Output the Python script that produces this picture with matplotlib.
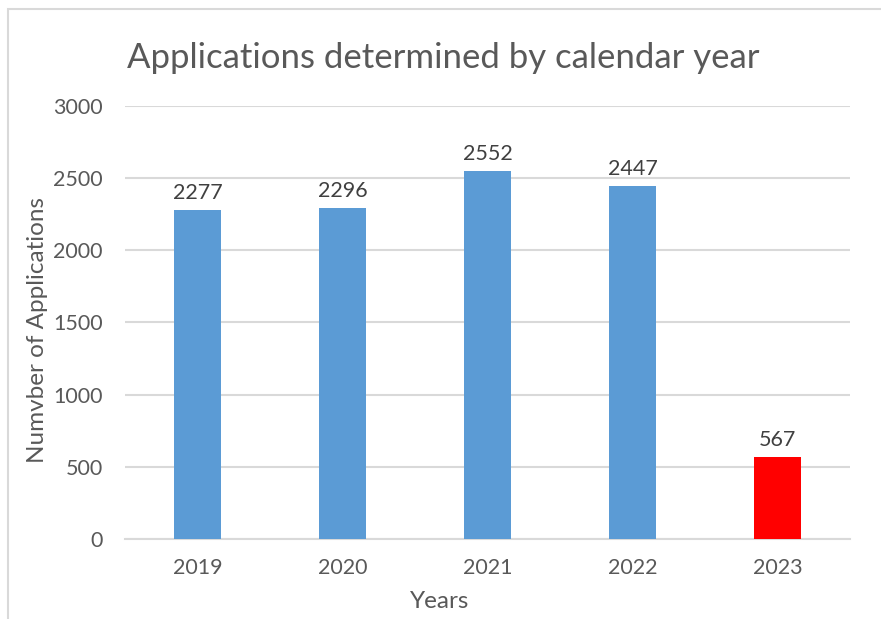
import matplotlib.pyplot as plt
from matplotlib.patches import Rectangle

years = ["2019", "2020", "2021", "2022", "2023"]
applications = [2277, 2296, 2552, 2447, 567]
bar_colors = ["#5B9BD5", "#5B9BD5", "#5B9BD5", "#5B9BD5", "#FF0000"]
y_ticks = [0, 500, 1000, 1500, 2000, 2500, 3000]

text_color = "#595959"
grid_color = "#D9D9D9"
plt.rcParams['font.family'] = ['Lato', 'DejaVu Sans']

fig = plt.figure(figsize=(8.81, 6.19), dpi=100)
ax = fig.add_axes([0.1419, 0.1292, 0.8229, 0.6996])

# chart frame (cut off at right and bottom)
fig.patches.append(Rectangle((8 / 881, -0.1), 1.2, 1 - 9 / 619 + 0.1,
                             transform=fig.transFigure, fill=False,
                             edgecolor="#D9D9D9", linewidth=1.5))

x = range(len(years))
bars = ax.bar(x, applications, width=0.32, color=bar_colors, zorder=3)
for rect, val in zip(bars, applications):
    ax.annotate(str(val), (rect.get_x() + rect.get_width() / 2, val),
                xytext=(0, 5), textcoords="offset points",
                ha="center", va="bottom", fontsize=15.5, color="#404040")

ax.set_xlim(-0.5, len(years) - 0.5)
ax.set_ylim(0, 3000)
ax.set_yticks(y_ticks)
ax.set_xticks(list(x))
ax.set_xticklabels(years)
ax.tick_params(axis="both", length=0, labelsize=15.5, labelcolor=text_color)
ax.tick_params(axis="y", pad=16)
ax.tick_params(axis="x", pad=14)
ax.yaxis.grid(True, color=grid_color, linewidth=1.5, zorder=0)
for side in ["top", "right", "left"]:
    ax.spines[side].set_visible(False)
ax.spines["bottom"].set_color(grid_color)
ax.spines["bottom"].set_linewidth(1.5)

ax.set_ylabel("Numvber of Applications", fontsize=17.5, color=text_color, va="center")
ax.set_xlabel("Years", fontsize=17.5, color=text_color, va="center")
# axis titles are centred on the chart area rather than the plot area
ax.yaxis.set_label_coords(38 / 881, 1 - 330 / 619, transform=fig.transFigure)
ax.xaxis.set_label_coords(440 / 881, 1 - 601 / 619, transform=fig.transFigure)

fig.text(127 / 881, 1 - 68 / 619, "Applications determined by calendar year",
         fontsize=25, color=text_color, ha="left", va="baseline")

fig.savefig("out.png", dpi=100)
